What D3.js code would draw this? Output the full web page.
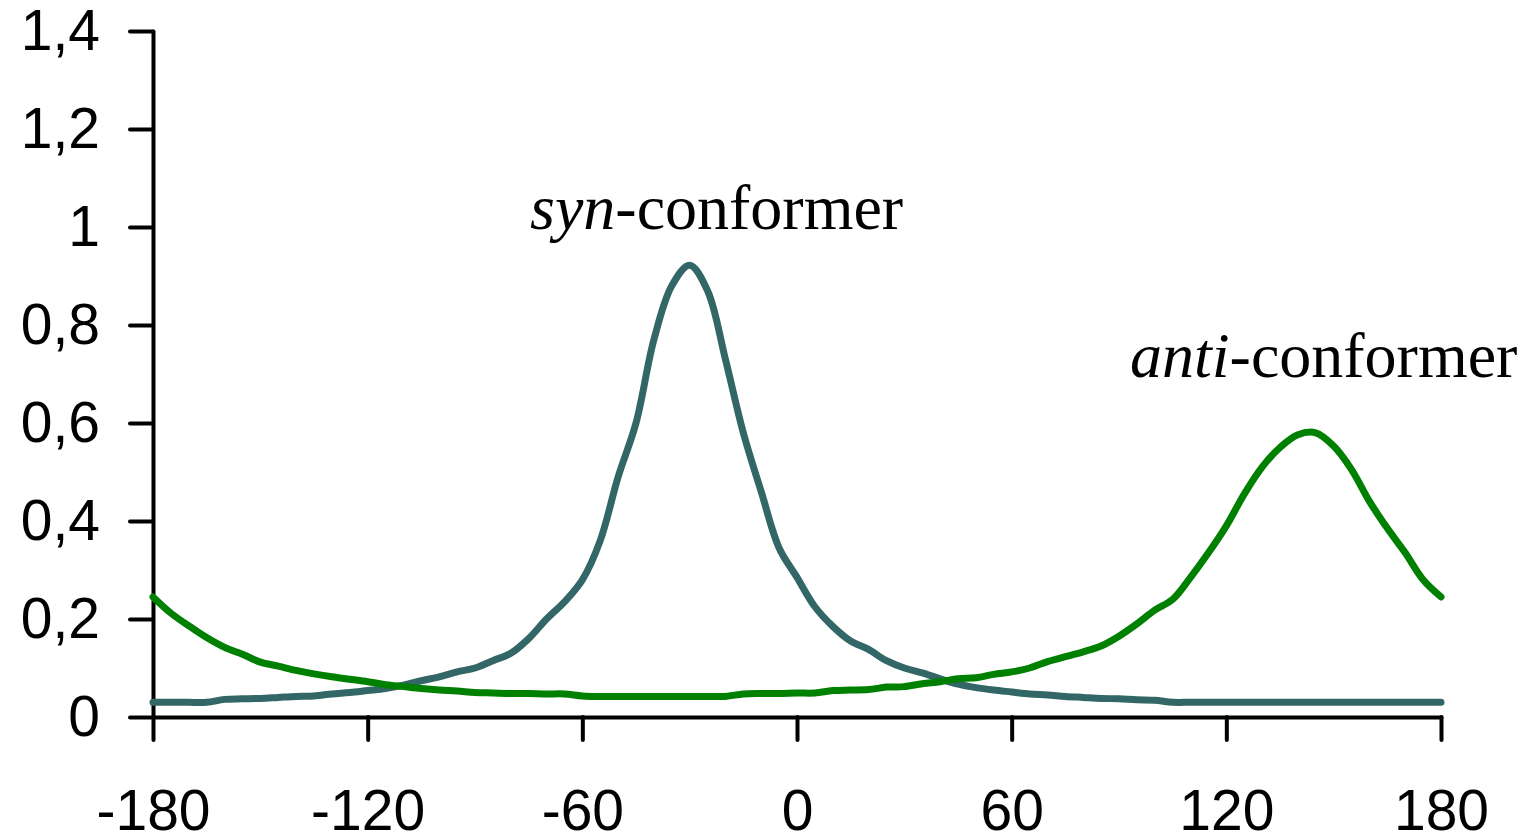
<!DOCTYPE html>
<html>
<head>
  <meta charset="utf-8">
  <style>
    body { margin: 0; background: #fff; }
    .axis path, .axis line { stroke: #000; stroke-width: 4px; stroke-linecap: round; }
    .axis text { font-family: Arial, "Liberation Sans", sans-serif; font-size: 57px; fill: #000; }
    .label { font-family: "Times New Roman", "Liberation Serif", serif; font-size: 64px; fill: #000; }
  </style>
  <script src="https://cdn.jsdelivr.net/npm/d3@7/dist/d3.min.js"></script>
</head>
<body>
<script>
  // dihedral angle (degrees), every 5
  const angles = d3.range(-180, 181, 5);

  // syn-conformer (grey)
  const synValues = [
    0.03, 0.03, 0.03, 0.03, 0.036, 0.037, 0.038, 0.04, 0.042, 0.043,
    0.047, 0.05, 0.054, 0.058, 0.065, 0.074, 0.082, 0.092, 0.10, 0.115,
    0.13, 0.16, 0.20, 0.235, 0.28, 0.36, 0.49, 0.60, 0.77, 0.88,
    0.922, 0.87, 0.73, 0.58, 0.46, 0.345, 0.285, 0.225, 0.185, 0.155,
    0.138, 0.115, 0.10, 0.09, 0.078, 0.067, 0.06, 0.055, 0.051, 0.047,
    0.045, 0.042, 0.04, 0.038, 0.037, 0.035, 0.034, 0.03, 0.03, 0.03,
    0.03, 0.03, 0.03, 0.03, 0.03, 0.03, 0.03, 0.03, 0.03, 0.03,
    0.03, 0.03, 0.03
  ];

  // anti-conformer (green)
  const antiValues = [
    0.245, 0.212, 0.186, 0.162, 0.142, 0.128, 0.112, 0.104, 0.095, 0.088,
    0.082, 0.077, 0.072, 0.066, 0.062, 0.058, 0.055, 0.053, 0.05, 0.049,
    0.048, 0.048, 0.047, 0.047, 0.043, 0.042, 0.042, 0.042, 0.042, 0.042,
    0.042, 0.042, 0.042, 0.047, 0.048, 0.048, 0.049, 0.049, 0.054, 0.055,
    0.056, 0.061, 0.062, 0.068, 0.072, 0.078, 0.08, 0.087, 0.092, 0.10,
    0.113, 0.123, 0.133, 0.145, 0.165, 0.19, 0.218, 0.24, 0.285, 0.335,
    0.39, 0.455, 0.51, 0.55, 0.576, 0.58, 0.553, 0.505, 0.44, 0.385,
    0.335, 0.28, 0.245
  ];

  const xTicks = [-180, -120, -60, 0, 60, 120, 180];
  const xTickLabels = ["-180", "-120", "-60", "0", "60", "120", "180"];
  const yTicks = [0, 0.2, 0.4, 0.6, 0.8, 1, 1.2, 1.4];
  const yTickLabels = ["0", "0,2", "0,4", "0,6", "0,8", "1", "1,2", "1,4"];

  const width = 1530, height = 840;
  const margin = {top: 31, right: 89, bottom: 123, left: 153};
  const w = width - margin.left - margin.right,
        h = height - margin.top - margin.bottom;

  const svg = d3.select("body").append("svg")
      .attr("width", width)
      .attr("height", height)
    .append("g")
      .attr("transform", "translate(" + margin.left + "," + margin.top + ")");

  const x = d3.scaleLinear().domain([-180, 180]).range([0, w]);
  const y = d3.scaleLinear().domain([0, 1.4]).range([h, 0]);

  // axes
  svg.append("g")
      .attr("class", "axis")
      .call(d3.axisLeft(y).tickValues(yTicks)
        .tickFormat((d, i) => yTickLabels[i])
        .tickSize(23).tickSizeOuter(0).tickPadding(30));

  svg.append("g")
      .attr("class", "axis")
      .attr("transform", "translate(0," + h + ")")
      .call(d3.axisBottom(x).tickValues(xTicks)
        .tickFormat((d, i) => xTickLabels[i])
        .tickSize(23).tickSizeOuter(0).tickPadding(50));

  svg.selectAll(".axis .domain").attr("stroke-linecap", "square");

  // curves
  const line = d3.line()
      .curve(d3.curveCatmullRom.alpha(0.5))
      .x(d => x(d[0]))
      .y(d => y(d[1]));

  svg.append("path")
      .datum(angles.map((a, i) => [a, synValues[i]]))
      .attr("fill", "none")
      .attr("stroke", "#336666")
      .attr("stroke-width", 7)
      .attr("stroke-linejoin", "round")
      .attr("stroke-linecap", "round")
      .attr("d", line);

  svg.append("path")
      .datum(angles.map((a, i) => [a, antiValues[i]]))
      .attr("fill", "none")
      .attr("stroke", "#008000")
      .attr("stroke-width", 7)
      .attr("stroke-linejoin", "round")
      .attr("stroke-linecap", "round")
      .attr("d", line);

  // labels
  const syn = svg.append("text").attr("class", "label")
      .attr("x", 530 - margin.left).attr("y", 229 - margin.top);
  syn.append("tspan").style("font-style", "italic").text("syn");
  syn.append("tspan").text("-conformer");

  const anti = svg.append("text").attr("class", "label")
      .attr("x", 1130 - margin.left).attr("y", 377 - margin.top);
  anti.append("tspan").style("font-style", "italic").text("anti");
  anti.append("tspan").text("-conformer");
</script>
</body>
</html>
